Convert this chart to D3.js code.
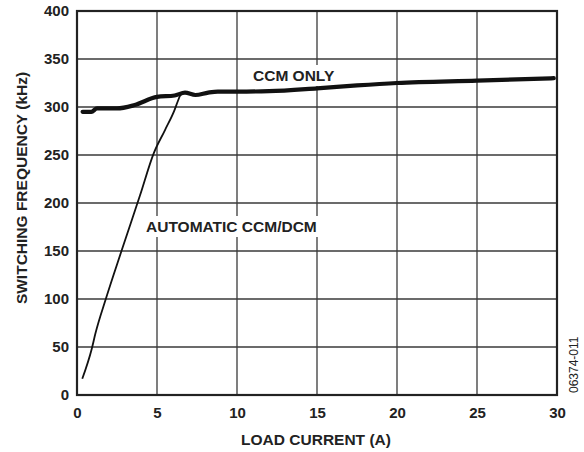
<!DOCTYPE html>
<html>
<head>
<meta charset="utf-8">
<script src="https://cdn.jsdelivr.net/npm/d3@7"></script>
<style>
  body { margin: 0; background: #fff; }
  svg text { font-family: "Liberation Sans", Arial, Helvetica, sans-serif; fill: #222; }
</style>
</head>
<body>
<svg id="chart" width="584" height="452"></svg>
<script>
// values
const xTicks = [0, 5, 10, 15, 20, 25, 30];
const yTicks = [0, 50, 100, 150, 200, 250, 300, 350, 400];

const ccmCurrent = [0.35, 0.9, 1.25, 2.5, 3.6, 5.0, 6.1, 6.75, 7.4, 8.2, 8.8, 10, 12, 15, 17.5, 20, 25, 29.8];
const ccmFreq    = [295, 295, 298.5, 298.5, 302, 310.5, 312, 315, 312.5, 315, 316, 316, 316.5, 319.5, 322.5, 325, 327.5, 330];

const autoCurrent = [0.33, 0.92, 1.15, 1.8, 2.8, 3.94, 4.8, 5.5, 6.1, 6.3, 6.45, 6.7];
const autoFreq    = [17, 48, 64, 100, 151, 208, 252, 276, 297, 306, 312, 315];

const svg = d3.select("#chart");
const plotL = 77, plotR = 557, plotT = 11, plotB = 395;

const x = d3.scaleLinear().domain([0, 30]).range([plotL, plotR]);
const y = d3.scaleLinear().domain([0, 400]).range([plotB, plotT]);

// grid
const grid = svg.append("g").attr("stroke", "#3a3a3a").attr("stroke-width", 1.3);
grid.selectAll("line.v").data(xTicks.slice(1, -1)).enter().append("line")
  .attr("class", "v")
  .attr("x1", d => x(d)).attr("x2", d => x(d))
  .attr("y1", plotT).attr("y2", plotB);
grid.selectAll("line.h").data(yTicks.slice(1, -1)).enter().append("line")
  .attr("class", "h")
  .attr("x1", plotL).attr("x2", plotR)
  .attr("y1", d => y(d)).attr("y2", d => y(d));

// axes (tick labels only, frame drawn separately)
const xAxis = svg.append("g")
  .attr("transform", "translate(0," + plotB + ")")
  .call(d3.axisBottom(x).tickValues(xTicks).tickSize(0).tickPadding(12));
const yAxis = svg.append("g")
  .attr("transform", "translate(" + plotL + ",0)")
  .call(d3.axisLeft(y).tickValues(yTicks).tickSize(0).tickPadding(8));
[xAxis, yAxis].forEach(a => {
  a.select(".domain").remove();
  a.selectAll("text")
    .style("font-family", "'Liberation Sans', Arial, sans-serif")
    .style("font-size", "15px").style("font-weight", "bold").attr("fill", "#222");
});

// in-plot labels with white backing (they break the grid, not the curves)
function label(txt, px, py) {
  const g = svg.append("g");
  const t = g.append("text").attr("x", px).attr("y", py)
    .style("font-size", "15.5px").style("font-weight", "bold").text(txt);
  const b = t.node().getBBox();
  g.insert("rect", "text")
    .attr("x", b.x - 3).attr("y", b.y - 2)
    .attr("width", b.width + 6).attr("height", b.height + 4)
    .attr("fill", "#fff");
}
label("CCM ONLY", 253, 81);
label("AUTOMATIC CCM/DCM", 146, 232);

// curves
const line = d3.line().x(d => x(d[0])).y(d => y(d[1])).curve(d3.curveMonotoneX);

svg.append("path")
  .datum(d3.zip(autoCurrent, autoFreq))
  .attr("d", line).attr("fill", "none")
  .attr("stroke", "#111").attr("stroke-width", 1.8);

svg.append("path")
  .datum(d3.zip(ccmCurrent, ccmFreq))
  .attr("d", line).attr("fill", "none")
  .attr("stroke", "#111").attr("stroke-width", 4.2)
  .attr("stroke-linecap", "round");

// frame
svg.append("rect")
  .attr("x", plotL).attr("y", plotT)
  .attr("width", plotR - plotL).attr("height", plotB - plotT)
  .attr("fill", "none").attr("stroke", "#222").attr("stroke-width", 2.2);

// axis titles
svg.append("text")
  .attr("x", 316).attr("y", 445)
  .attr("text-anchor", "middle")
  .style("font-size", "15.5px").style("font-weight", "bold")
  .text("LOAD CURRENT (A)");

svg.append("text")
  .attr("transform", "translate(26.5,188) rotate(-90)")
  .attr("text-anchor", "middle")
  .style("font-size", "15.5px").style("font-weight", "bold")
  .text("SWITCHING FREQUENCY (kHz)");

svg.append("text")
  .attr("transform", "translate(577.5,393) rotate(-90)")
  .style("font-size", "12px")
  .text("06374-011");
</script>
</body>
</html>
